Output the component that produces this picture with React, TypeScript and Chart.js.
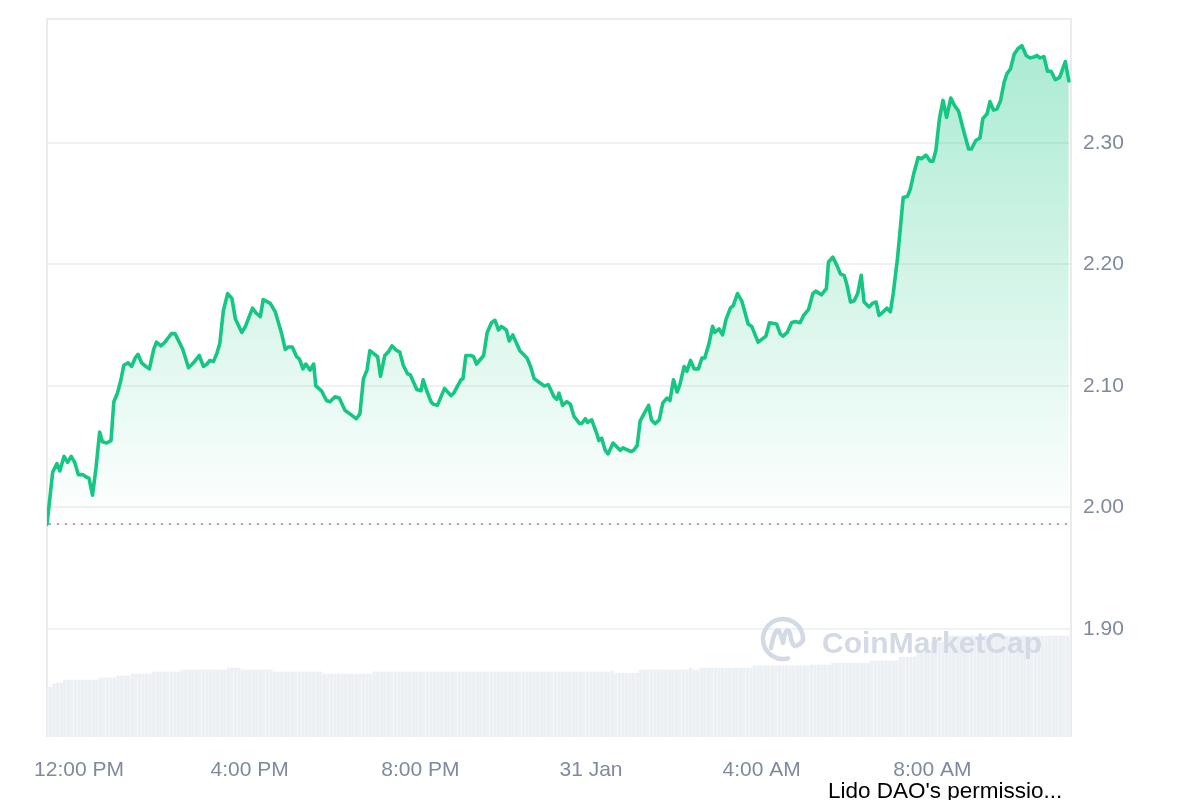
import React, { useEffect, useRef } from "react";
import { Chart, registerables } from "chart.js";

Chart.register(...registerables);

// Minutes since 11:15 AM (30 Jan)
const priceTimes = [
  0, 8, 14, 18, 24, 29, 34, 39, 44, 50,
  55, 59, 64, 69, 74, 78, 84, 90, 94, 99,
  104, 108, 114, 119, 124, 128, 133, 139, 144, 150,
  154, 160, 166, 171, 175, 180, 186, 191, 199, 206,
  214, 220, 225, 229, 234, 239, 243, 248, 254, 260,
  265, 274, 279, 289, 294, 300, 304, 314, 321, 330,
  335, 339, 345, 351, 355, 360, 364, 370, 375, 378,
  386, 393, 398, 405, 411, 419, 426, 435, 440, 445,
  450, 454, 465, 469, 475, 480, 485, 492, 496, 501,
  507, 511, 520, 526, 529, 534, 540, 543, 549, 559,
  568, 572, 582, 585, 589, 596, 600, 604, 614, 619,
  625, 630, 635, 639, 646, 650, 655, 665, 675, 680,
  685, 692, 699, 705, 713, 717, 720, 725, 731, 736,
  741, 749, 752, 757, 760, 766, 773, 776, 780, 785,
  789, 796, 806, 810, 821, 825, 830, 834, 846, 850,
  855, 861, 866, 872, 876, 881, 886, 890, 896, 900,
  905, 910, 916, 921, 925, 931, 936, 939, 945, 950,
  955, 961, 965, 971, 977, 986, 991, 1000, 1011, 1016,
  1026, 1031, 1035, 1041, 1047, 1052, 1059, 1064, 1071, 1077,
  1081, 1089, 1096, 1099, 1105, 1111, 1116, 1121, 1125, 1130,
  1135, 1140, 1145, 1149, 1156, 1161, 1166, 1170, 1176, 1181,
  1186, 1190, 1196, 1204, 1210, 1214, 1219, 1225, 1230, 1236,
  1242, 1246, 1250, 1255, 1260, 1265, 1271, 1276, 1282, 1289,
  1296, 1300, 1306, 1312, 1316, 1322, 1326, 1331, 1336, 1341,
  1346, 1350, 1355, 1360, 1366, 1371, 1377, 1382, 1389, 1392,
  1396, 1402, 1407, 1412, 1418, 1424, 1432, 1437,
];

const prices = [
  1.986, 2.029, 2.036, 2.030, 2.042, 2.037, 2.042, 2.037, 2.027, 2.027,
  2.025, 2.024, 2.010, 2.033, 2.062, 2.054, 2.053, 2.055, 2.087, 2.094,
  2.105, 2.117, 2.119, 2.116, 2.123, 2.126, 2.119, 2.116, 2.114, 2.130,
  2.136, 2.133, 2.136, 2.140, 2.143, 2.143, 2.136, 2.130, 2.115, 2.119,
  2.125, 2.116, 2.118, 2.121, 2.120, 2.127, 2.135, 2.162, 2.176, 2.172,
  2.155, 2.144, 2.149, 2.164, 2.160, 2.157, 2.171, 2.168, 2.161, 2.143,
  2.130, 2.132, 2.132, 2.124, 2.122, 2.114, 2.118, 2.113, 2.118, 2.100,
  2.096, 2.088, 2.087, 2.091, 2.090, 2.080, 2.077, 2.073, 2.077, 2.106,
  2.113, 2.129, 2.124, 2.108, 2.125, 2.128, 2.133, 2.129, 2.128, 2.117,
  2.110, 2.109, 2.097, 2.096, 2.105, 2.096, 2.087, 2.085, 2.084, 2.098,
  2.092, 2.094, 2.105, 2.106, 2.125, 2.125, 2.124, 2.118, 2.125, 2.144,
  2.152, 2.154, 2.146, 2.149, 2.146, 2.137, 2.142, 2.129, 2.123, 2.116,
  2.106, 2.103, 2.100, 2.101, 2.091, 2.089, 2.094, 2.084, 2.087, 2.085,
  2.075, 2.069, 2.069, 2.073, 2.070, 2.072, 2.061, 2.055, 2.057, 2.047,
  2.044, 2.053, 2.047, 2.049, 2.046, 2.047, 2.051, 2.071, 2.084, 2.072,
  2.069, 2.072, 2.086, 2.090, 2.088, 2.105, 2.095, 2.101, 2.116, 2.112,
  2.121, 2.114, 2.114, 2.123, 2.123, 2.135, 2.149, 2.144, 2.147, 2.142,
  2.155, 2.164, 2.166, 2.176, 2.170, 2.151, 2.149, 2.136, 2.141, 2.152,
  2.151, 2.143, 2.141, 2.144, 2.152, 2.153, 2.152, 2.158, 2.163, 2.176,
  2.178, 2.175, 2.180, 2.202, 2.206, 2.199, 2.192, 2.191, 2.183, 2.169,
  2.170, 2.176, 2.191, 2.169, 2.165, 2.168, 2.169, 2.158, 2.161, 2.164,
  2.161, 2.176, 2.205, 2.255, 2.256, 2.262, 2.275, 2.288, 2.287, 2.290,
  2.285, 2.285, 2.294, 2.320, 2.335, 2.321, 2.337, 2.331, 2.326, 2.310,
  2.295, 2.295, 2.302, 2.304, 2.320, 2.324, 2.334, 2.327, 2.328, 2.335,
  2.350, 2.357, 2.361, 2.373, 2.378, 2.380, 2.372, 2.370, 2.371, 2.372,
  2.370, 2.371, 2.359, 2.359, 2.352, 2.354, 2.367, 2.351,
];

// 5-minute volume bars (millions USD)
const volumes = [
  20.9, 20.9, 22.1, 22.6, 22.6, 23.8, 23.8, 23.8, 23.8, 23.8, 23.8, 23.8,
  23.8, 23.8, 23.8, 24.7, 24.7, 24.7, 24.7, 24.7, 25.5, 25.5, 25.5, 25.5,
  26.3, 26.3, 26.3, 26.3, 26.3, 26.3, 27.2, 27.2, 27.2, 27.2, 27.2, 27.2,
  27.2, 27.2, 28.0, 28.0, 28.0, 28.0, 28.0, 28.0, 28.0, 28.0, 28.0, 28.0,
  28.0, 28.0, 28.0, 28.8, 28.8, 28.8, 28.8, 28.0, 28.0, 28.0, 28.0, 28.0,
  28.0, 28.0, 28.0, 28.0, 27.2, 27.2, 27.2, 27.2, 27.2, 27.2, 27.2, 27.2,
  27.2, 27.2, 27.2, 27.2, 27.2, 27.2, 26.3, 26.3, 26.3, 26.3, 26.3, 26.3,
  26.3, 26.3, 26.3, 26.3, 26.3, 26.3, 26.3, 26.3, 27.2, 27.2, 27.2, 27.2,
  27.2, 27.2, 27.2, 27.2, 27.2, 27.2, 27.2, 27.2, 27.2, 27.2, 27.2, 27.2,
  27.2, 27.2, 27.2, 27.2, 27.2, 27.2, 27.2, 27.2, 27.2, 27.2, 27.2, 27.2,
  27.2, 27.2, 27.2, 27.2, 27.2, 27.2, 27.2, 27.2, 27.2, 27.2, 27.2, 27.2,
  27.2, 27.2, 27.2, 27.2, 27.2, 27.2, 27.2, 27.2, 27.2, 27.2, 27.2, 27.2,
  27.2, 27.2, 27.2, 27.2, 27.2, 27.2, 27.2, 27.2, 27.2, 27.2, 27.2, 27.2,
  27.2, 27.2, 27.2, 27.6, 26.7, 26.7, 26.7, 26.7, 26.7, 26.7, 26.7, 28.0,
  28.0, 28.0, 28.0, 28.0, 28.0, 28.0, 28.0, 28.0, 28.0, 28.0, 28.0, 28.0,
  28.0, 28.8, 28.0, 28.0, 28.8, 28.8, 28.8, 28.8, 28.8, 28.8, 28.8, 28.8,
  28.8, 28.8, 28.8, 28.8, 28.8, 28.8, 28.8, 29.7, 29.7, 29.7, 29.7, 29.7,
  29.7, 29.7, 29.7, 29.7, 29.7, 29.7, 29.7, 29.7, 29.7, 29.7, 29.7, 30.1,
  30.1, 30.1, 30.1, 30.1, 30.1, 30.9, 30.9, 30.9, 30.9, 30.9, 30.9, 30.9,
  30.9, 30.9, 30.9, 30.9, 31.8, 31.8, 31.8, 31.8, 31.8, 31.8, 31.8, 31.8,
  33.4, 33.4, 33.4, 33.4, 33.4, 36.3, 36.3, 36.3, 36.3, 39.7, 39.7, 39.7,
  39.7, 42.2, 42.2, 42.2, 42.2, 42.2, 42.2, 42.2, 42.2, 42.2, 42.2, 42.2,
  42.2, 42.2, 42.2, 42.2, 42.2, 42.2, 42.2, 42.2, 42.2, 42.2, 42.2, 42.2,
  42.2, 42.2, 42.2, 42.2, 42.2, 42.2, 42.2, 42.2, 42.2, 42.2, 42.2, 42.2,
  42.2,
];
const volumeIntervalMinutes = 5;

const xTickMinutes = [45, 285, 525, 765, 1005, 1245];
const xTickLabels = ["12:00 PM", "4:00 PM", "8:00 PM", "31 Jan", "4:00 AM", "8:00 AM"];
const yTicks = [1.9, 2.0, 2.1, 2.2, 2.3];
const openPrice = 1.986;
const yMin = 1.811;
const yMax = 2.402;
const volumeAxisMax = 300;
const footerText = "Lido DAO's permissio...";

const FONT = '"Liberation Sans", Arial, Helvetica, sans-serif';
const TICK_COLOR = "#808a9d";

const framePlugin = {
  id: "frame",
  beforeDatasetsDraw(chart: any) {
    const { ctx, chartArea } = chart;
    ctx.save();
    ctx.strokeStyle = "#ebebeb";
    ctx.lineWidth = 2;
    ctx.beginPath();
    ctx.moveTo(chartArea.left, chartArea.bottom);
    ctx.lineTo(chartArea.left, chartArea.top);
    ctx.lineTo(chartArea.right, chartArea.top);
    ctx.lineTo(chartArea.right, chartArea.bottom);
    ctx.stroke();
    ctx.restore();
  },
};

const baselinePlugin = {
  id: "baseline",
  afterDatasetsDraw(chart: any) {
    const { ctx, chartArea, scales } = chart;
    const y = Math.round(scales.y.getPixelForValue(openPrice));
    ctx.save();
    ctx.strokeStyle = "#a3a8b2";
    ctx.lineWidth = 2;
    ctx.setLineDash([2, 6]);
    ctx.beginPath();
    ctx.moveTo(chartArea.left + 2, y);
    ctx.lineTo(chartArea.right - 2, y);
    ctx.stroke();
    ctx.restore();
  },
};

const watermarkPlugin = {
  id: "watermark",
  afterDatasetsDraw(chart: any) {
    const { ctx } = chart;
    const cx = 783;
    const cy = 639;
    ctx.save();
    ctx.strokeStyle = "#d3d9e5";
    ctx.fillStyle = "#d3d9e5";
    ctx.lineWidth = 4.5;
    ctx.lineCap = "round";
    ctx.lineJoin = "round";
    ctx.beginPath();
    ctx.arc(cx, cy, 20, 0.42 * Math.PI, 2.02 * Math.PI);
    ctx.stroke();
    ctx.beginPath();
    ctx.moveTo(cx - 12, cy + 9);
    ctx.quadraticCurveTo(cx - 8, cy - 12, cx - 4, cy - 8);
    ctx.quadraticCurveTo(cx - 1, cy - 2, cx, cy + 4);
    ctx.quadraticCurveTo(cx + 3, cy - 14, cx + 7, cy - 6);
    ctx.quadraticCurveTo(cx + 9, cy + 8, cx + 13, cy + 7);
    ctx.quadraticCurveTo(cx + 18, cy + 5, cx + 20, cy + 1);
    ctx.stroke();
    ctx.font = `bold 30px ${FONT}`;
    ctx.textBaseline = "alphabetic";
    ctx.textAlign = "left";
    ctx.fillText("CoinMarketCap", 822, 653);
    ctx.restore();
  },
};

export default function App() {
  const ref = useRef<HTMLCanvasElement>(null);

  useEffect(() => {
    if (!ref.current) return;
    const chart = new Chart(ref.current, {
      type: "line",
      data: {
        datasets: [
          {
            type: "line",
            data: priceTimes.map((t, i) => ({ x: t, y: prices[i] })),
            borderColor: "#16c784",
            borderWidth: 3.6,
            pointRadius: 0,
            tension: 0,
            borderJoinStyle: "round",
            borderCapStyle: "round",
            fill: { target: { value: openPrice }, below: "rgba(234,57,67,0.3)" },
            backgroundColor: (c: any) => {
              const ch = c.chart;
              const area = ch.chartArea;
              if (!area || !ch.scales.y) return "rgba(22,199,132,0.15)";
              const yb = ch.scales.y.getPixelForValue(openPrice);
              const g = ch.ctx.createLinearGradient(0, area.top, 0, yb);
              g.addColorStop(0, "rgba(22,199,132,0.38)");
              g.addColorStop(1, "rgba(22,199,132,0.0)");
              return g;
            },
            yAxisID: "y",
            order: 0,
          } as any,
          {
            type: "bar",
            data: volumes.map((v, i) => ({ x: i * volumeIntervalMinutes, y: v })),
            backgroundColor: "#eceff3",
            barThickness: 2.6,
            yAxisID: "yVol",
            order: 1,
          } as any,
        ],
      },
      options: {
        responsive: false,
        animation: false,
        layout: { padding: { left: 47, top: 19, right: 0, bottom: 0 } },
        plugins: { legend: { display: false }, tooltip: { enabled: false } },
        scales: {
          x: {
            type: "linear",
            min: 0,
            max: 1440,
            offset: false,
            grid: { display: false },
            border: { display: false },
            afterBuildTicks: (s: any) => {
              s.ticks = xTickMinutes.map((v) => ({ value: v }));
            },
            afterFit: (s: any) => {
              s.height = 63;
              s.paddingLeft = 0;
              s.paddingRight = 0;
            },
            ticks: {
              autoSkip: false,
              maxRotation: 0,
              padding: 13,
              color: TICK_COLOR,
              font: { family: FONT, size: 21 },
              callback: (v: any) => {
                const i = xTickMinutes.indexOf(Number(v));
                return i >= 0 ? xTickLabels[i] : "";
              },
            },
          },
          y: {
            type: "linear",
            position: "right",
            min: yMin,
            max: yMax,
            afterBuildTicks: (s: any) => {
              s.ticks = yTicks.map((v) => ({ value: v }));
            },
            afterFit: (s: any) => {
              s.width = 129;
              s.paddingTop = 0;
              s.paddingBottom = 0;
            },
            grid: { color: "#f0f1f3", lineWidth: 2, drawTicks: false },
            border: { display: false },
            ticks: {
              padding: 12,
              color: TICK_COLOR,
              font: { family: FONT, size: 21 },
              callback: (v: any) => Number(v).toFixed(2),
            },
          },
          yVol: {
            type: "linear",
            display: false,
            min: 0,
            max: volumeAxisMax,
          },
        },
      } as any,
      plugins: [framePlugin, baselinePlugin, watermarkPlugin],
    });
    return () => chart.destroy();
  }, []);

  return (
    <div
      style={{
        position: "absolute",
        left: 0,
        top: 0,
        width: 1200,
        height: 800,
        overflow: "hidden",
        background: "#ffffff",
      }}
    >
      <canvas ref={ref} width={1200} height={800} style={{ display: "block", width: 1200, height: 800 }} />
      <div
        style={{
          position: "absolute",
          left: 828,
          top: 780,
          font: `22.5px ${FONT}`,
          lineHeight: "22px",
          color: "#000000",
          whiteSpace: "nowrap",
        }}
      >
        {footerText}
      </div>
    </div>
  );
}
